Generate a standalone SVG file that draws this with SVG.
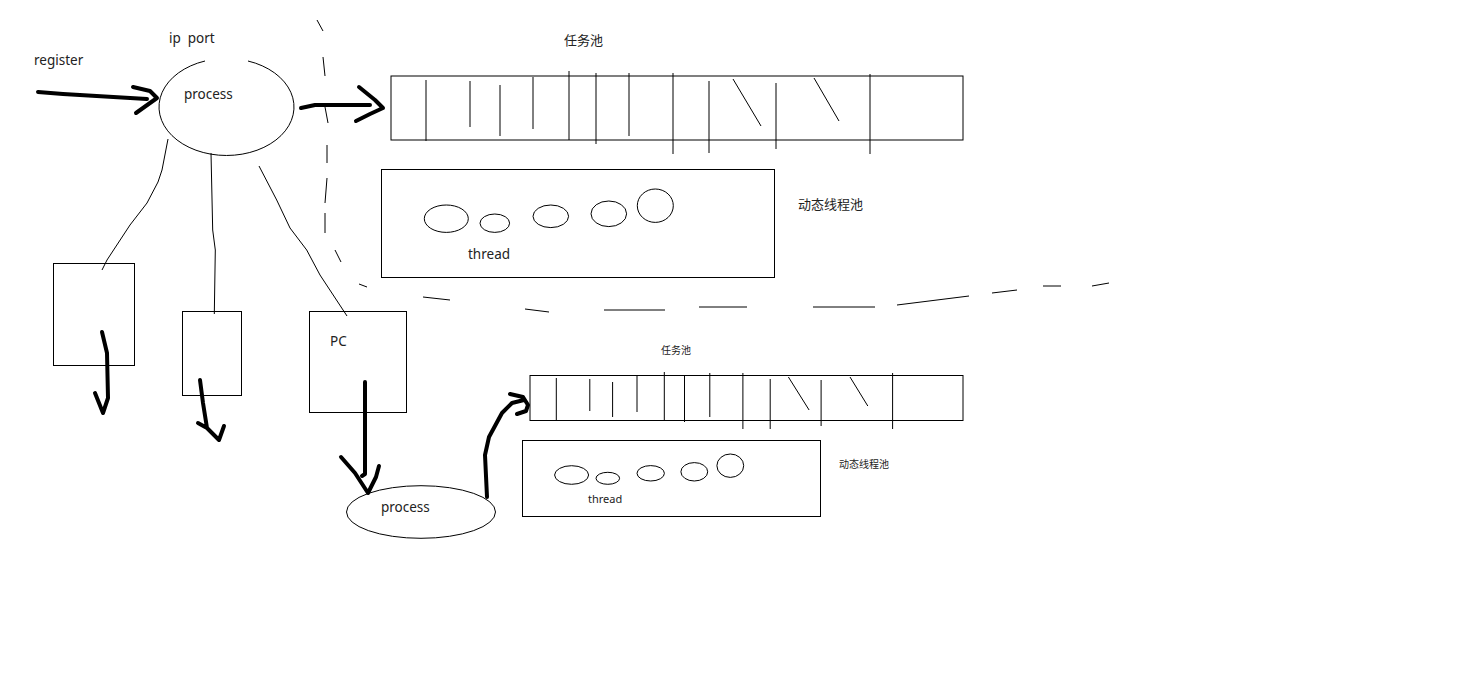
<svg xmlns="http://www.w3.org/2000/svg" width="1467" height="700" viewBox="0 0 1467 700">
<style>
.t{font-family:"Noto Sans","Noto Sans CJK SC",sans-serif;fill:#222;white-space:pre}
.thin{fill:none;stroke:#000;stroke-width:1}
.thick{fill:none;stroke:#000;stroke-width:4;stroke-linecap:round;stroke-linejoin:round}
.box{fill:none;stroke:#000;stroke-width:1}
</style>
<rect width="1467" height="700" fill="#fff"/>
<g id="labels">
<text class="t" x="34" y="65" font-size="13.5">register</text>
<text class="t" x="169" y="43" font-size="13.5">ip  port</text>
</g>
<g id="process-top">
<path class="thin" d="M248,61 A67.5,48.5 0 1 1 205,61"/>
<text class="t" x="184" y="99" font-size="13.5">process</text>
</g>
<g id="task-pool-top">
<rect class="box" x="391" y="76" width="572" height="64"/>
<path class="thin" d="M426,80V141 M470,81V127 M500,85V136 M533,77V129 M569,71V140 M596,73V144 M629,73V136 M673,73V154 M709,81V153 M776,83V149 M870,74V154 M733,79L761,126 M814,78L839,121"/>
<text class="t" x="564" y="45" font-size="13">任务池</text>
</g>
<g id="thread-pool-top">
<rect class="box" x="381.5" y="169.5" width="393" height="108"/>
<ellipse class="thin" cx="446.3" cy="218.7" rx="22" ry="13.7"/>
<ellipse class="thin" cx="494.8" cy="223.2" rx="14.8" ry="9.2"/>
<ellipse class="thin" cx="550.8" cy="216.3" rx="17.8" ry="11.3"/>
<ellipse class="thin" cx="608.8" cy="213.8" rx="17.8" ry="12.8"/>
<ellipse class="thin" cx="655.3" cy="205.7" rx="18" ry="16.7"/>
<text class="t" x="468" y="259" font-size="13.5">thread</text>
<text class="t" x="798" y="209" font-size="13">动态线程池</text>
</g>
<g id="box1"><rect class="box" x="53.5" y="263.5" width="81" height="102"/></g>
<g id="box2"><rect class="box" x="182.5" y="311.5" width="59" height="84"/></g>
<g id="box-pc">
<rect class="box" x="309.5" y="311.5" width="97" height="101"/>
<text class="t" x="330" y="346" font-size="13.5">PC</text>
</g>
<g id="process-bottom">
<ellipse class="thin" cx="421" cy="512" rx="74.5" ry="26.3"/>
<text class="t" x="381" y="512" font-size="13.5">process</text>
</g>
<g id="task-pool-bottom">
<rect class="box" x="530" y="375.5" width="433" height="45"/>
<path class="thin" d="M556.3,378V421 M589.8,379V411 M612.6,382V417 M637,376V412 M664.3,372V420 M684.5,375V422 M709.8,373V417 M742.9,373V429 M770.2,379V429 M821.1,380V426 M892.6,373V429 M788.4,377L809.1,410 M850,377L867.8,406"/>
<text class="t" x="661" y="354" font-size="10">任务池</text>
</g>
<g id="thread-pool-bottom">
<rect class="box" x="522.5" y="440.5" width="298" height="76"/>
<ellipse class="thin" cx="571.6" cy="475" rx="17" ry="9.3"/>
<ellipse class="thin" cx="607.8" cy="478.3" rx="11.8" ry="6"/>
<ellipse class="thin" cx="650.7" cy="473.3" rx="13.7" ry="7.7"/>
<ellipse class="thin" cx="694.3" cy="471.8" rx="13.4" ry="9.2"/>
<ellipse class="thin" cx="730.3" cy="465.7" rx="13.4" ry="11.7"/>
<text class="t" x="588" y="503" font-size="11">thread</text>
<text class="t" x="839" y="468" font-size="10">动态线程池</text>
</g>
<g id="connectors">
<path class="thick" d="M38,92 L63,94 L147,99 M133,87 L150,91 L157,98 L136,113"/>
<path class="thick" d="M301,108 L315,105 L370,105 M359,87 L375,100 L383,108 L370,114 L356,121"/>
<path class="thin" d="M168,139 L162,170 L158,182 L147,203 L130,225 L107,260 L102,270"/>
<path class="thin" d="M211,153 L212.7,230 L215.3,250 L214.3,314"/>
<path class="thin" d="M259,166 L276.7,200 L290,228 L306.7,250 L320,275 L347,316"/>
<path class="thick" d="M102,332 L107,353 L108,398 L103,413 L95,393"/>
<path class="thick" d="M200,380 L203,403 L207,428 M198,423 L207,428 L219,440 L224,426"/>
<path class="thick" d="M365,382 V474 L362,476 M341,457 L355,473 L368,493 L376,477 L379,466"/>
<path class="thick" d="M487,497 L485,455 L489,437 L502,413 L512,403 L524,400 M510,394 L523,397 L528,405 L526,411 L517,414"/>
<path class="thin" d="M317,20 L323,31 M323,57 L325,76 M325,107 L328,123 M327,145 V163 M327,178 L325,203 M325,213 V233 M335,250 L341,262 M359,284 L367,287 M423,297 L450,300 M525,309 L549,312 M604,310 H665 M699,307 H747 M813,307 H875 M897,305 L969,296 M992,293 L1017,290 M1043,286 H1061 M1092,286 L1109,283"/>
</g>
</svg>
